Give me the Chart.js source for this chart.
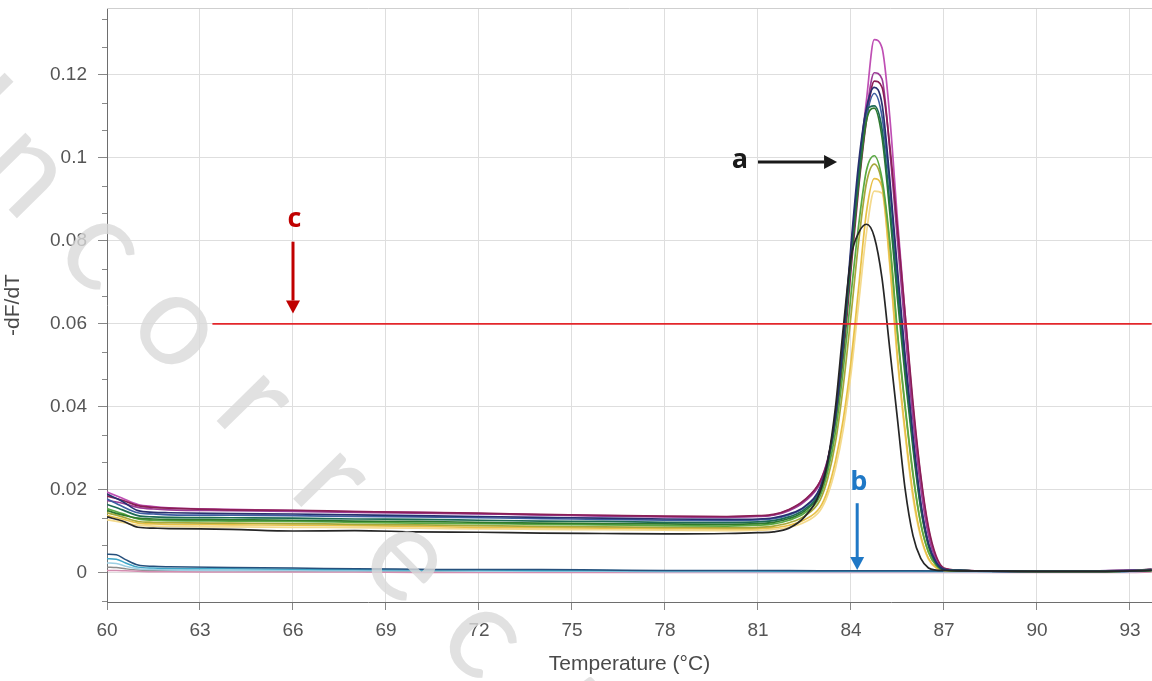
<!DOCTYPE html>
<html><head><meta charset="utf-8">
<script src="https://cdn.jsdelivr.net/npm/chart.js@4.4.1/dist/chart.umd.min.js"></script>
<style>html,body{margin:0;padding:0;background:#fff;}#wrap{width:1152px;height:681px;}</style>
</head><body><div id="wrap"><canvas id="c" width="1152" height="681"></canvas></div>
<script>
// ---- data ----
const temps = [60, 60.5, 61, 61.5, 62, 64, 66, 68, 70, 72, 74, 76, 78, 80, 81, 81.5, 82, 82.5, 83, 83.25, 83.5, 83.75, 84, 84.25, 84.5, 84.75, 85, 85.25, 85.5, 85.75, 86, 86.25, 86.5, 86.75, 87, 87.5, 88, 90, 92, 93.7];

const magentaHigh = [0.0195,0.018,0.0165,0.016,0.0157,0.0153,0.015,0.0148,0.0146,0.0143,0.014,0.0138,0.0136,0.0135, 0.0137,0.014,0.0152,0.0175,0.022,0.0275,0.0375,0.054,0.076,0.097,0.114,0.1285, 0.1265,0.11,0.085,0.062,0.04,0.023,0.0105,0.0035,0.001,0.0006,0.0005,0.0004,0.0005,0.0008];
const purple = [0.0175,0.0168,0.0158,0.0154,0.0152,0.015,0.0148,0.0146,0.0144,0.0142,0.014,0.0137,0.0135,0.0134, 0.0136,0.0139,0.015,0.0172,0.0215,0.027,0.037,0.054,0.075,0.095,0.111,0.1205, 0.119,0.102,0.08,0.058,0.037,0.0205,0.009,0.003,0.001,0.0006,0.0005,0.0004,0.0004,0.0007];
const maroon = [0.0185,0.0175,0.0162,0.0158,0.0156,0.0152,0.0151,0.0148,0.0146,0.0144,0.0141,0.0139,0.0137,0.0136, 0.0138,0.0141,0.0153,0.0176,0.022,0.0272,0.0365,0.052,0.073,0.093,0.109,0.1185, 0.117,0.103,0.083,0.062,0.041,0.0235,0.011,0.004,0.0012,0.0007,0.0005,0.0005,0.0005,0.0008];
const navy = [0.019,0.0172,0.015,0.0146,0.0145,0.0143,0.0142,0.014,0.0138,0.0136,0.0134,0.0132,0.013,0.0129, 0.013,0.0133,0.0142,0.016,0.0205,0.027,0.038,0.056,0.079,0.099,0.112,0.117, 0.113,0.095,0.073,0.052,0.033,0.017,0.007,0.0025,0.0009,0.0006,0.0005,0.0004,0.0004,0.0007];
const blue = [0.0178,0.016,0.0145,0.0142,0.014,0.0139,0.0138,0.0136,0.0135,0.0133,0.0131,0.0129,0.0127,0.0126, 0.0128,0.0131,0.014,0.0158,0.0203,0.0268,0.0378,0.0555,0.0775,0.097,0.11,0.1155, 0.11,0.093,0.071,0.051,0.032,0.0165,0.007,0.0025,0.0009,0.0006,0.0005,0.0004,0.0005,0.0007];
const teal = [0.0165,0.0152,0.0138,0.0135,0.0134,0.0133,0.0132,0.013,0.0129,0.0127,0.0125,0.0124,0.0122,0.0121, 0.0123,0.0126,0.0135,0.0153,0.0198,0.0265,0.0378,0.0555,0.077,0.0965,0.1115,0.1125, 0.107,0.089,0.068,0.049,0.031,0.016,0.0068,0.0023,0.0008,0.0006,0.0005,0.0004,0.0004,0.0006];
const darkGreen = [0.015,0.014,0.0132,0.013,0.0129,0.0128,0.0127,0.0125,0.0124,0.0122,0.012,0.0119,0.0118,0.0117, 0.0119,0.0122,0.0131,0.0149,0.0194,0.026,0.037,0.054,0.075,0.094,0.109,0.112, 0.105,0.087,0.066,0.047,0.03,0.0155,0.0065,0.0022,0.0008,0.0006,0.0005,0.0004,0.0004,0.0006];
const green = [0.0155,0.0143,0.013,0.0127,0.0126,0.0125,0.0124,0.0122,0.012,0.0119,0.0117,0.0116,0.0114,0.0113, 0.0115,0.0118,0.0127,0.0144,0.0185,0.0245,0.034,0.049,0.067,0.084,0.097,0.1005, 0.095,0.08,0.058,0.04,0.024,0.012,0.005,0.0018,0.0007,0.0005,0.0005,0.0004,0.0004,0.0006];
const olive = [0.0145,0.0135,0.0124,0.0122,0.0121,0.012,0.0119,0.0117,0.0116,0.0114,0.0112,0.0111,0.011,0.0109, 0.011,0.0113,0.0121,0.0137,0.0175,0.0228,0.0315,0.045,0.062,0.08,0.094,0.0985, 0.094,0.079,0.0575,0.0395,0.0235,0.0118,0.005,0.0018,0.0007,0.0005,0.0005,0.0004,0.0004,0.0006];
const yellow = [0.0138,0.013,0.012,0.0118,0.0117,0.0116,0.0115,0.0114,0.0112,0.011,0.0109,0.0108,0.0107,0.0106, 0.0107,0.0109,0.0115,0.0128,0.0158,0.02,0.027,0.037,0.051,0.069,0.087,0.095, 0.093,0.075,0.052,0.034,0.019,0.009,0.0035,0.0013,0.0006,0.0005,0.0005,0.0004,0.0004,0.0006];
const lightYellow = [0.0128,0.0122,0.0115,0.0113,0.0112,0.0111,0.011,0.0109,0.0108,0.0106,0.0105,0.0104,0.0103,0.0102, 0.0103,0.0105,0.011,0.0122,0.015,0.0188,0.0252,0.0345,0.048,0.065,0.082,0.092, 0.0915,0.074,0.051,0.033,0.018,0.0085,0.0033,0.0012,0.0006,0.0005,0.0005,0.0004,0.0004,0.0006];
const black = [0.0135,0.0125,0.011,0.0108,0.0107,0.0105,0.0101,0.0102,0.0099,0.0098,0.0096,0.0095,0.0094,0.0095, 0.0097,0.0099,0.0108,0.0135,0.0195,0.027,0.04,0.059,0.076,0.082,0.084,0.081, 0.071,0.054,0.037,0.02,0.009,0.0035,0.0012,0.0007,0.0006,0.0005,0.0005,0.0004,0.0004,0.0006];

// negative controls
const tempsNeg = [60, 60.3, 60.6, 61, 61.5, 62, 64, 66, 68, 70, 72, 74, 76, 78, 80, 82, 84, 86, 88, 90, 92, 93, 93.7];
const negDarkBlue = [0.0045,0.0044,0.0032,0.0019,0.0016,0.0015,0.0013,0.0012,0.001,0.0009,0.0008,0.0008,0.0007,0.0006,0.0006,0.0006,0.0005,0.0005,0.0004,0.0003,0.0003,0.0004,0.0009];
const negCyan = [0.0034,0.0033,0.0024,0.0014,0.0012,0.0011,0.001,0.0009,0.0008,0.0007,0.0007,0.0006,0.0006,0.0005,0.0005,0.0004,0.0004,0.0004,0.0004,0.0003,0.0003,0.0004,0.0007];
const negLightBlue = [0.0024,0.0023,0.0016,0.001,0.0008,0.0007,0.0006,0.0006,0.0005,0.0005,0.0004,0.0004,0.0004,0.0003,0.0003,0.0003,0.0003,0.0003,0.0002,0.0002,0.0002,0.0003,0.0005];
const negPink = [0.0006,0.0006,0.0005,0.0004,0.0003,0.0003,0.0002,0.0002,0.0002,0.0001,0.0001,0.0001,0.0001,0.0001,0.0001,0.0001,0.0001,0.0001,0.0001,0.0001,0.0001,0.0001,0.0002];
const negGrey = [0.0014,0.0013,0.001,0.0007,0.0006,0.0005,0.0005,0.0004,0.0004,0.0004,0.0003,0.0003,0.0003,0.0003,0.0003,0.0003,0.0004,0.0004,0.0005,0.0004,0.0004,0.0005,0.001];

// threshold line
const thresholdX = [63.4, 93.7];
const thresholdValue = 0.06;

// axis ticks
const xTickStep = 3;
const yTickStep = 0.02;

// annotations
const noteLabels = ['a', 'b', 'c'];
const noteTextX = [80.42, 84.25, 66.05];
const noteTextY = [0.0995, 0.0219, 0.0852];
const arrowFromX = [81.0, 84.2, 66.0];
const arrowFromY = [0.0990, 0.0168, 0.0798];
const arrowToX = [83.55, 84.2, 66.0];
const arrowToY = [0.0990, 0.0007, 0.0625];

// ---- chart ----
const pts = (xs, ys) => xs.map((t, i) => ({x: t, y: ys[i]}));
const sampleSeries = [
  ['black', black, '#262626', 1],
  ['navy', navy, '#283070', 2],
  ['teal', teal, '#1d6a55', 3],
  ['darkGreen', darkGreen, '#2f7a2c', 4],
  ['green', green, '#5aa843', 5],
  ['olive', olive, '#a7a83a', 6],
  ['yellow', yellow, '#e8c047', 7],
  ['lightYellow', lightYellow, '#f4da8e', 8],
  ['blue', blue, '#3e5ea2', 9],
  ['maroon', maroon, '#8a1f55', 10],
  ['purple', purple, '#9c3b96', 11],
  ['magentaHigh', magentaHigh, '#bf4fb4', 12]
];
const negSeries = [
  ['negDarkBlue', negDarkBlue, '#26507c', 13],
  ['negCyan', negCyan, '#3ea6c8', 14],
  ['negLightBlue', negLightBlue, '#9dcfe3', 15],
  ['negPink', negPink, '#d48db0', 16],
  ['negGrey', negGrey, '#8c8c8c', 17]
];
const datasets = [];
sampleSeries.forEach(s => datasets.push({label: s[0], data: pts(temps, s[1]), borderColor: s[2], borderWidth: 1.7, order: s[3]}));
negSeries.forEach(s => datasets.push({label: s[0], data: pts(tempsNeg, s[1]), borderColor: s[2], borderWidth: 1.5, order: s[3]}));
datasets.push({label: 'threshold', data: thresholdX.map(x => ({x, y: thresholdValue})), borderColor: '#e3262b', borderWidth: 1.6, order: 0, cubicInterpolationMode: 'default', tension: 0});

const noteColors = ['#1a1a1a', '#1f78c6', '#c00000'];

function drawArrow(ctx, x1, y1, x2, y2, color) {
  const ang = Math.atan2(y2 - y1, x2 - x1);
  const hl = 13, hw = 7;
  ctx.save();
  ctx.strokeStyle = color; ctx.fillStyle = color; ctx.lineWidth = 3;
  ctx.beginPath();
  ctx.moveTo(x1, y1);
  ctx.lineTo(x2 - Math.cos(ang) * hl, y2 - Math.sin(ang) * hl);
  ctx.stroke();
  ctx.beginPath();
  ctx.moveTo(x2, y2);
  ctx.lineTo(x2 - Math.cos(ang) * hl - Math.sin(ang) * hw, y2 - Math.sin(ang) * hl + Math.cos(ang) * hw);
  ctx.lineTo(x2 - Math.cos(ang) * hl + Math.sin(ang) * hw, y2 - Math.sin(ang) * hl - Math.cos(ang) * hw);
  ctx.closePath(); ctx.fill();
  ctx.restore();
}

const extras = {
  id: 'extras',
  beforeDatasetsDraw(chart) {
    const {ctx, chartArea: a} = chart;
    ctx.save();
    ctx.strokeStyle = '#cfcfcf'; ctx.lineWidth = 1;
    ctx.beginPath(); ctx.moveTo(a.left, a.top + 0.5); ctx.lineTo(a.right, a.top + 0.5); ctx.stroke();
    ctx.restore();
  },
  afterDatasetsDraw(chart) {
    const {ctx} = chart;
    const xs = chart.scales.x, ys = chart.scales.y;
    noteLabels.forEach((lab, i) => {
      drawArrow(ctx, xs.getPixelForValue(arrowFromX[i]), ys.getPixelForValue(arrowFromY[i]),
                xs.getPixelForValue(arrowToX[i]), ys.getPixelForValue(arrowToY[i]), noteColors[i]);
      ctx.save();
      ctx.fillStyle = noteColors[i];
      ctx.font = 'bold 27px "Open Sans", "Liberation Sans", sans-serif';
      ctx.textAlign = 'center'; ctx.textBaseline = 'middle';
      ctx.fillText(lab, xs.getPixelForValue(noteTextX[i]), ys.getPixelForValue(noteTextY[i]));
      ctx.restore();
    });
  },
  afterDraw(chart) {
    const {ctx, chartArea: a} = chart;
    const ys = chart.scales.y;
    // minor y ticks
    ctx.save();
    ctx.strokeStyle = '#8a8a8a'; ctx.lineWidth = 1;
    const minor = yTickStep / 3;
    for (let k = Math.ceil(ys.min / minor); k * minor <= ys.max; k++) {
      if (k % 3 === 0) continue;
      const py = Math.round(ys.getPixelForValue(k * minor)) + 0.5;
      ctx.beginPath(); ctx.moveTo(a.left - 5, py); ctx.lineTo(a.left, py); ctx.stroke();
    }
    ctx.restore();
    // watermark
    ctx.save();
    ctx.fillStyle = 'rgba(218,218,218,0.8)';
    ctx.font = '400 130px Lato, "Liberation Sans", Arial, sans-serif';
    ctx.textAlign = 'center'; ctx.textBaseline = 'alphabetic';
    const word = 'Uncorrected Proof';
    const ang = Math.atan2(77.6, 76.4);
    const step = 109;
    const sx = 98 - 2 * 76.4, sy = 252 - 2 * 77.6;
    for (let i = 0; i < word.length; i++) {
      const cx = sx + Math.cos(ang) * step * i, cy = sy + Math.sin(ang) * step * i;
      ctx.save();
      ctx.translate(cx, cy); ctx.rotate(ang);
      ctx.fillText(word[i], 0, 34);
      ctx.restore();
    }
    ctx.restore();
  }
};

const tickFont = {family: '"Liberation Sans", Arial, sans-serif', size: 19};
new Chart(document.getElementById('c'), {
  type: 'line',
  data: {datasets},
  options: {
    responsive: false, animation: false, devicePixelRatio: 1,
    layout: {padding: {top: 8, left: 0, right: 0, bottom: 0}},
    elements: {point: {radius: 0}, line: {cubicInterpolationMode: 'monotone', fill: false}},
    plugins: {legend: {display: false}, tooltip: {enabled: false}},
    scales: {
      x: {
        type: 'linear', min: 60, max: 93.71,
        ticks: {stepSize: xTickStep, includeBounds: false, color: '#555', font: tickFont, padding: 9, maxRotation: 0},
        grid: {color: '#dedede', tickColor: '#888', tickLength: 8, lineWidth: 1},
        border: {color: '#6e6e6e', width: 1},
        title: {display: true, text: 'Temperature (°C)', color: '#4a4a4a', font: {family: '"Liberation Sans", Arial, sans-serif', size: 21}, padding: {top: 0, bottom: 4}},
        afterFit(s) { s.height = 79; s.paddingLeft = 0; s.paddingRight = 0; }
      },
      y: {
        type: 'linear', min: -0.007, max: 0.1361,
        ticks: {stepSize: yTickStep, includeBounds: false, color: '#555', font: tickFont, padding: 11,
                callback: v => String(Number(v.toFixed(3)))},
        grid: {color: '#dedede', tickColor: '#888', tickLength: 9, lineWidth: 1},
        border: {color: '#6e6e6e', width: 1},
        title: {display: true, text: '-dF/dT', color: '#4a4a4a', font: {family: '"Liberation Sans", Arial, sans-serif', size: 21}, padding: {top: 1, bottom: 0}},
        afterFit(s) { s.width = 107; s.paddingTop = 0; s.paddingBottom = 0; }
      }
    }
  },
  plugins: [extras]
});
</script></body></html>
